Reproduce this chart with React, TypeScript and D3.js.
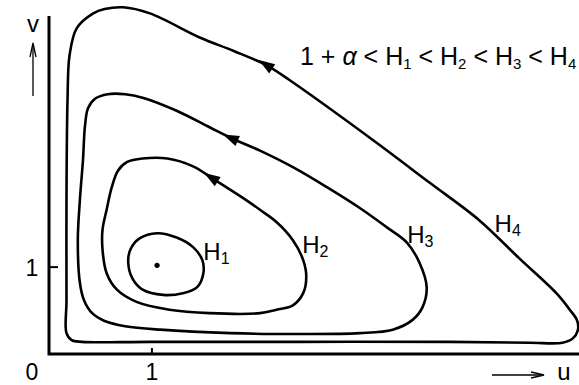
import React from 'react';
import * as d3 from 'd3';

const W = 579;
const HGT = 385;

// axis extents in (u, v) units
const uMax = 5.15;
const vMax = 3.89;

// closed orbits H = const in (u, v) units
const orbitH1: [number, number][] = [
  [0.79, 1.2], [0.88, 1.33], [1.05, 1.39], [1.24, 1.34], [1.4, 1.23], [1.49, 1.08],
  [1.5, 0.93], [1.44, 0.77], [1.3, 0.7], [1.11, 0.68], [0.91, 0.74], [0.81, 0.87], [0.77, 1.05],
];
const orbitH2: [number, number][] = [
  [0.52, 1.43], [0.56, 1.66], [0.61, 1.92], [0.67, 2.11], [0.76, 2.21], [0.91, 2.25],
  [1.15, 2.25], [1.4, 2.16], [1.59, 2.02], [1.88, 1.8], [2.05, 1.66], [2.21, 1.52],
  [2.37, 1.31], [2.47, 1.08], [2.5, 0.89], [2.47, 0.7], [2.37, 0.56], [2.21, 0.51],
  [2.05, 0.47], [1.56, 0.47], [1.17, 0.51], [0.85, 0.6], [0.66, 0.74], [0.56, 0.93], [0.52, 1.2],
];
const orbitH3: [number, number][] = [
  [0.33, 2.23], [0.35, 2.63], [0.38, 2.83], [0.45, 2.94], [0.57, 2.99], [0.74, 2.99],
  [0.91, 2.95], [1.24, 2.8], [1.56, 2.61], [1.78, 2.48], [2.05, 2.34], [2.37, 2.15],
  [2.7, 1.92], [3.02, 1.68], [3.28, 1.46], [3.48, 1.28], [3.6, 1.05], [3.67, 0.77],
  [3.63, 0.54], [3.53, 0.39], [3.34, 0.28], [3.02, 0.24], [2.44, 0.23], [1.76, 0.24],
  [1.08, 0.28], [0.74, 0.32], [0.54, 0.38], [0.42, 0.47], [0.34, 0.62], [0.3, 0.82],
  [0.28, 1.31], [0.3, 1.77],
];
const orbitH4: [number, number][] = [
  [0.72, 3.99], [0.98, 3.92], [1.47, 3.64], [1.79, 3.49], [2.12, 3.32], [2.34, 3.15],
  [3.15, 2.46], [3.7, 1.97], [4.18, 1.54], [4.57, 1.1], [4.93, 0.7], [5.06, 0.51],
  [5.13, 0.39], [5.14, 0.28], [5.09, 0.18], [4.99, 0.13], [4.67, 0.13], [3.89, 0.14],
  [2.44, 0.14], [0.98, 0.14], [0.32, 0.14], [0.22, 0.16], [0.17, 0.24], [0.17, 0.62],
  [0.17, 1.77], [0.18, 2.92], [0.2, 3.44], [0.27, 3.75], [0.43, 3.92], [0.54, 3.97],
];

const orbitNames = ['H1', 'H2', 'H3', 'H4'];
const orbitPoints = [orbitH1, orbitH2, orbitH3, orbitH4];

// direction arrows sit on these vertices (orbit index, vertex index)
const arrowOrbit = [3, 2, 1];
const arrowVertex = [4, 9, 8];

const equilibrium: [number, number] = [1.05, 1.02];
const xTicks = [1];
const yTicks = [1];

// label anchor points (u, v) – layout
const labelAt: [number, number][] = [
  [1.5, 1.08],
  [2.46, 1.16],
  [3.48, 1.28],
  [4.33, 1.4],
];

const FONT = '"Liberation Sans", Arial, Helvetica, sans-serif';

export default function App() {
  const x = d3.scaleLinear().domain([0, uMax]).range([49, 579]);
  const y = d3.scaleLinear().domain([0, vMax]).range([354, 16]);

  const line = d3
    .line<[number, number]>()
    .x((d) => x(d[0]))
    .y((d) => y(d[1]))
    .curve(d3.curveCatmullRomClosed.alpha(0.5));

  const arrows = arrowOrbit.map((oi, k) => {
    const pts = orbitPoints[oi];
    const i = arrowVertex[k];
    const p = [x(pts[i][0]), y(pts[i][1])];
    const q = [x(pts[i + 1][0]), y(pts[i + 1][1])];
    let dx = p[0] - q[0];
    let dy = p[1] - q[1];
    const len = Math.hypot(dx, dy);
    dx /= len;
    dy /= len;
    const tip = [p[0] + dx * 10, p[1] + dy * 10];
    const bc = [p[0] - dx * 6, p[1] - dy * 6];
    const px = -dy, py = dx;
    const hw = 5.5;
    return `M${tip[0]},${tip[1]}L${bc[0] + px * hw},${bc[1] + py * hw}L${bc[0] - px * hw},${bc[1] - py * hw}Z`;
  });

  const subDy = 4;

  return (
    <svg
      width={W}
      height={HGT}
      style={{ position: 'absolute', left: 0, top: 0, background: '#fff' }}
      fontFamily={FONT}
    >
      <rect width={W} height={HGT} fill="#fff" />
      {/* axes */}
      <path
        d={`M${x(0)},${y(vMax)}V${y(0)}H${x(uMax)}`}
        fill="none"
        stroke="#000"
        strokeWidth={3}
      />
      {xTicks.map((t) => (
        <line key={'xt' + t} x1={x(t)} x2={x(t)} y1={y(0)} y2={y(0) - 6} stroke="#000" strokeWidth={2} />
      ))}
      {yTicks.map((t) => (
        <line key={'yt' + t} x1={x(0)} x2={x(0) + 9} y1={y(t)} y2={y(t)} stroke="#000" strokeWidth={2} />
      ))}
      {xTicks.map((t) => (
        <text key={'xl' + t} x={x(t)} y={380} fontSize={23} textAnchor="middle">
          {t}
        </text>
      ))}
      {yTicks.map((t) => (
        <text key={'yl' + t} x={32} y={y(t) + 9} fontSize={23} textAnchor="middle">
          {t}
        </text>
      ))}
      <text x={32} y={380} fontSize={23} textAnchor="middle">0</text>

      {/* axis names with arrows */}
      <text x={33} y={32} fontSize={24} textAnchor="middle">v</text>
      <line x1={33} x2={33} y1={96} y2={45} stroke="#000" strokeWidth={1.3} />
      <path d="M30,57L33,43L36,57" fill="none" stroke="#000" strokeWidth={1.3} />
      <line x1={492} x2={541} y1={375} y2={375} stroke="#000" strokeWidth={1.3} />
      <path d="M531,372L544,375L531,378" fill="none" stroke="#000" strokeWidth={1.3} />
      <text x={564} y={380} fontSize={24} textAnchor="middle">u</text>

      {/* orbits */}
      {orbitPoints.map((pts, i) => (
        <path key={orbitNames[i]} d={line(pts) || ''} fill="none" stroke="#000" strokeWidth={2.6} />
      ))}
      {arrows.map((d, i) => (
        <path key={'ar' + i} d={d} fill="#000" />
      ))}
      <circle cx={x(equilibrium[0])} cy={y(equilibrium[1])} r={2.6} fill="#000" />

      {/* orbit labels */}
      {orbitNames.map((n, i) => (
        <text key={'lab' + n} x={x(labelAt[i][0])} y={y(labelAt[i][1])} fontSize={24}>
          H
          <tspan fontSize={16} dy={subDy}>{n.slice(1)}</tspan>
        </text>
      ))}

      {/* inequality */}
      <text x={300} y={65} fontSize={25} style={{ whiteSpace: 'pre' }}>
        <tspan>{'1 + '}</tspan>
        <tspan fontStyle="italic">{'α'}</tspan>
        <tspan>{' < H'}</tspan>
        <tspan fontSize={15} dy={subDy}>1</tspan>
        <tspan dy={-subDy}>{' < H'}</tspan>
        <tspan fontSize={15} dy={subDy}>2</tspan>
        <tspan dy={-subDy}>{' < H'}</tspan>
        <tspan fontSize={15} dy={subDy}>3</tspan>
        <tspan dy={-subDy}>{' < H'}</tspan>
        <tspan fontSize={15} dy={subDy}>4</tspan>
      </text>
    </svg>
  );
}
